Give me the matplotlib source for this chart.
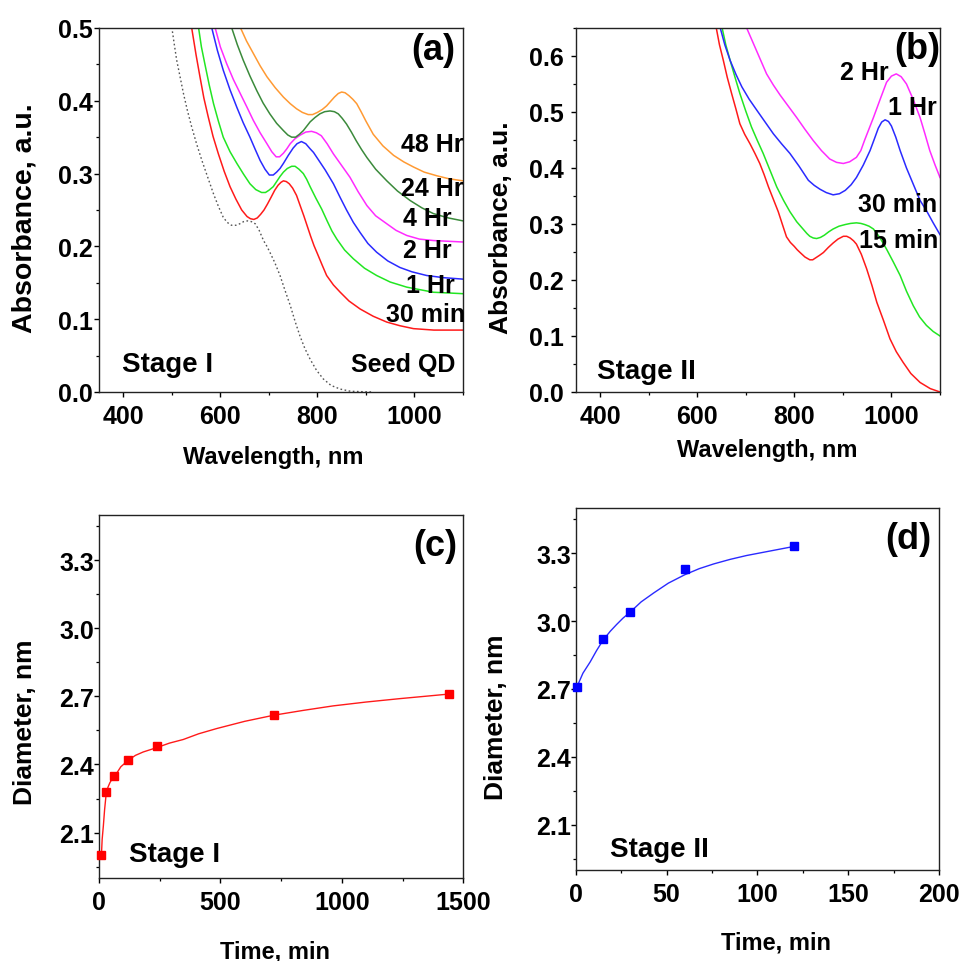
import matplotlib
matplotlib.use("Agg")
import matplotlib.pyplot as plt
from matplotlib.ticker import MultipleLocator, FormatStrFormatter

plt.rcParams['font.family'] = ['Liberation Sans', 'DejaVu Sans']
plt.rcParams['font.weight'] = 'bold'
plt.rcParams['axes.labelweight'] = 'bold'

# ---- panel (a): Stage I absorption spectra ----
wl_a_seed = [500, 505, 510, 517, 524, 532, 541, 551, 562, 574, 586, 596, 606, 614, 623, 632, 640, 648, 656, 664,
             672, 680, 689, 696, 702, 712, 723, 733, 744, 754, 764, 774, 785, 798, 812, 828, 847, 868, 888, 915]
abs_a_seed = [0.501, 0.478, 0.456, 0.433, 0.410, 0.387, 0.364, 0.341, 0.318, 0.295, 0.272, 0.255, 0.240, 0.233,
              0.229, 0.229, 0.231, 0.234, 0.235, 0.234, 0.231, 0.222, 0.208, 0.200, 0.192, 0.178, 0.160, 0.140,
              0.119, 0.097, 0.077, 0.060, 0.045, 0.030, 0.018, 0.009, 0.004, 0.001, 0.0005, 0.0]

wl_a_30min = [541, 550, 558, 566, 575, 585, 596, 608, 620, 632, 644, 655, 662, 669, 676, 683, 690, 697, 705, 712,
              719, 725, 730, 736, 742, 749, 757, 765, 772, 779, 786, 793, 800, 810, 819, 833, 847, 865, 888, 915,
              943, 970, 998, 1040, 1100]
abs_a_30min = [0.500, 0.463, 0.433, 0.404, 0.378, 0.351, 0.327, 0.303, 0.282, 0.265, 0.250, 0.241, 0.238, 0.237,
               0.239, 0.244, 0.250, 0.258, 0.268, 0.277, 0.284, 0.288, 0.290, 0.289, 0.286, 0.280, 0.270, 0.255,
               0.242, 0.228, 0.214, 0.201, 0.190, 0.174, 0.160, 0.147, 0.137, 0.125, 0.114, 0.104, 0.096, 0.091,
               0.087, 0.085, 0.085]

wl_a_1hr = [555, 561, 568, 577, 586, 596, 606, 620, 634, 648, 661, 673, 685, 693, 700, 709, 716, 723, 730, 738,
            747, 754, 762, 771, 778, 785, 797, 809, 820, 830, 840, 856, 874, 897, 922, 950, 984, 1039, 1100]
abs_a_1hr = [0.501, 0.474, 0.451, 0.422, 0.396, 0.372, 0.350, 0.330, 0.314, 0.299, 0.286, 0.278, 0.274, 0.274,
             0.277, 0.282, 0.289, 0.296, 0.302, 0.307, 0.310, 0.310, 0.306, 0.300, 0.292, 0.282, 0.266, 0.251,
             0.235, 0.221, 0.210, 0.195, 0.183, 0.170, 0.160, 0.151, 0.144, 0.137, 0.135]

wl_a_2hr = [582, 594, 606, 620, 634, 647, 661, 672, 682, 692, 701, 709, 716, 723, 730, 740, 750, 758, 767, 776,
            785, 792, 799, 816, 833, 847, 860, 874, 888, 904, 922, 945, 970, 995, 1025, 1060, 1100]
abs_a_2hr = [0.501, 0.469, 0.442, 0.415, 0.391, 0.370, 0.350, 0.333, 0.318, 0.306, 0.298, 0.298, 0.302, 0.307,
             0.314, 0.325, 0.335, 0.341, 0.344, 0.341, 0.334, 0.329, 0.322, 0.305, 0.286, 0.267, 0.250, 0.233,
             0.219, 0.204, 0.192, 0.180, 0.171, 0.165, 0.160, 0.157, 0.155]

wl_a_4hr = [589, 600, 613, 627, 641, 655, 668, 682, 696, 706, 715, 722, 730, 737, 744, 754, 765, 776, 788, 798,
            808, 820, 833, 850, 867, 884, 902, 920, 943, 962, 984, 1010, 1039, 1100]
abs_a_4hr = [0.501, 0.474, 0.451, 0.429, 0.410, 0.391, 0.373, 0.356, 0.341, 0.330, 0.323, 0.323, 0.328, 0.334,
             0.341, 0.348, 0.353, 0.357, 0.358, 0.356, 0.352, 0.341, 0.327, 0.311, 0.295, 0.275, 0.256, 0.242,
             0.231, 0.222, 0.215, 0.210, 0.208, 0.206]

wl_a_24hr = [623, 635, 647, 661, 675, 688, 702, 716, 730, 739, 747, 755, 763, 771, 778, 785, 795, 805, 815, 826,
             835, 843, 851, 860, 870, 880, 891, 902, 920, 943, 965, 991, 1015, 1039, 1070, 1100]
abs_a_24hr = [0.501, 0.477, 0.456, 0.434, 0.414, 0.397, 0.382, 0.369, 0.359, 0.353, 0.350, 0.350, 0.354, 0.359,
              0.365, 0.371, 0.377, 0.382, 0.385, 0.386, 0.385, 0.382, 0.376, 0.368, 0.357, 0.345, 0.333, 0.322,
              0.306, 0.290, 0.276, 0.263, 0.253, 0.245, 0.239, 0.235]

wl_a_48hr = [641, 654, 668, 682, 696, 713, 730, 744, 757, 769, 781, 790, 800, 810, 819, 827, 835, 843, 850, 857,
             865, 873, 881, 890, 900, 915, 935, 957, 978, 998, 1020, 1046, 1070, 1100]
abs_a_48hr = [0.501, 0.482, 0.465, 0.448, 0.433, 0.418, 0.405, 0.396, 0.389, 0.384, 0.381, 0.381, 0.384, 0.388,
              0.393, 0.399, 0.405, 0.410, 0.412, 0.411, 0.407, 0.402, 0.396, 0.385, 0.372, 0.354, 0.338, 0.325,
              0.316, 0.309, 0.302, 0.297, 0.293, 0.290]

# ---- panel (b): Stage II absorption spectra ----
wl_b_15min = [639, 646, 654, 662, 671, 680, 688, 698, 709, 719, 729, 738, 747, 757, 767, 776, 784, 792, 800, 806,
              812, 822, 832, 838, 845, 852, 860, 870, 880, 890, 901, 908, 915, 922, 928, 938, 949, 960, 970, 984,
              997, 1010, 1024, 1040, 1059, 1080, 1100]
abs_b_15min = [0.652, 0.620, 0.592, 0.562, 0.533, 0.505, 0.479, 0.460, 0.443, 0.426, 0.408, 0.388, 0.366, 0.344,
               0.322, 0.298, 0.277, 0.267, 0.260, 0.254, 0.249, 0.241, 0.236, 0.236, 0.240, 0.244, 0.249, 0.258,
               0.266, 0.273, 0.278, 0.278, 0.275, 0.270, 0.264, 0.246, 0.220, 0.190, 0.160, 0.127, 0.095, 0.072,
               0.053, 0.033, 0.017, 0.006, 0.0]

wl_b_30min = [651, 659, 668, 678, 688, 700, 712, 724, 736, 750, 764, 778, 791, 805, 819, 826, 832, 839, 846, 854,
              862, 871, 880, 892, 905, 916, 928, 937, 945, 954, 963, 976, 990, 1004, 1018, 1031, 1045, 1058, 1072,
              1086, 1100]
abs_b_30min = [0.652, 0.620, 0.592, 0.562, 0.533, 0.502, 0.473, 0.449, 0.426, 0.396, 0.366, 0.342, 0.322, 0.304,
               0.290, 0.283, 0.278, 0.275, 0.274, 0.276, 0.280, 0.286, 0.291, 0.296, 0.299, 0.301, 0.302, 0.301,
               0.299, 0.296, 0.291, 0.276, 0.255, 0.232, 0.208, 0.180, 0.154, 0.134, 0.119, 0.108, 0.100]

wl_b_1hr = [647, 657, 668, 680, 692, 707, 723, 740, 757, 774, 791, 810, 829, 841, 853, 866, 880, 893, 905, 917,
            928, 942, 956, 965, 973, 980, 987, 994, 1000, 1009, 1018, 1031, 1045, 1059, 1072, 1086, 1100]
abs_b_1hr = [0.652, 0.620, 0.592, 0.567, 0.545, 0.523, 0.503, 0.482, 0.461, 0.443, 0.426, 0.403, 0.378, 0.369,
             0.362, 0.356, 0.352, 0.354, 0.360, 0.370, 0.383, 0.405, 0.431, 0.452, 0.471, 0.482, 0.486, 0.483,
             0.475, 0.455, 0.431, 0.400, 0.371, 0.342, 0.324, 0.302, 0.281]

wl_b_2hr = [702, 712, 722, 732, 743, 757, 771, 788, 805, 822, 839, 856, 873, 887, 901, 914, 928, 937, 945, 954,
            963, 977, 990, 1000, 1010, 1020, 1031, 1045, 1059, 1069, 1079, 1090, 1100]
abs_b_2hr = [0.650, 0.630, 0.610, 0.590, 0.568, 0.548, 0.530, 0.510, 0.490, 0.469, 0.449, 0.431, 0.416, 0.410,
             0.408, 0.411, 0.419, 0.431, 0.450, 0.470, 0.490, 0.523, 0.553, 0.564, 0.568, 0.563, 0.550, 0.522,
             0.490, 0.461, 0.431, 0.405, 0.383]

# ---- panel (c): Stage I diameter vs time ----
time_c = [10, 30, 60, 120, 240, 720, 1440]
diam_c = [2.00, 2.28, 2.35, 2.42, 2.48, 2.62, 2.71]
time_c_fit = [10, 13, 18, 23, 29, 37, 45, 55, 66, 90, 122, 150, 182, 240, 290, 347, 410, 484, 600, 720, 840, 964,
              1100, 1239, 1340, 1440]
diam_c_fit = [2.00, 2.07, 2.13, 2.20, 2.265, 2.30, 2.32, 2.338, 2.35, 2.39, 2.42, 2.44, 2.455, 2.475, 2.494, 2.51,
              2.535, 2.558, 2.59, 2.617, 2.638, 2.658, 2.675, 2.69, 2.70, 2.71]

# ---- panel (d): Stage II diameter vs time ----
time_d = [1, 15, 30, 60, 120]
diam_d = [2.71, 2.92, 3.04, 3.23, 3.33]
time_d_fit = [1, 4, 8, 11.5, 15, 19, 22.5, 26, 30, 36, 43, 51, 60, 68, 76, 85, 94, 107, 120]
diam_d_fit = [2.715, 2.77, 2.82, 2.87, 2.915, 2.955, 2.985, 3.013, 3.04, 3.085, 3.125, 3.168, 3.205, 3.232, 3.253,
              3.273, 3.29, 3.31, 3.33]

RED = '#ff1a1a'
GREEN = '#22e622'
BLUE = '#2a2aff'
MAGENTA = '#ff2bff'
DKGREEN = '#3b8a3b'
ORANGE = '#ff9a33'

TICK_FS = 18
XLABEL_FS = 17
NOTE_FS = 18
STAGE_FS = 20
PANEL_FS = 26


def style_axes(ax, ypad):
    for sp in ax.spines.values():
        sp.set_linewidth(1.0)
        sp.set_color('#222222')
    ax.tick_params(which='major', direction='out', length=3.5, width=1.0,
                   labelsize=TICK_FS)
    ax.tick_params(which='minor', direction='out', length=2.5, width=0.9)
    ax.tick_params(axis='x', which='major', pad=5)
    ax.tick_params(axis='y', which='major', pad=ypad)
    for lab in ax.get_xticklabels() + ax.get_yticklabels():
        lab.set_fontweight('bold')


def place_labels(ax, xlabel, ylabel, xpos, ypos, yfs):
    ax.set_xlabel(xlabel, fontsize=XLABEL_FS, fontweight='bold')
    ax.set_ylabel(ylabel, fontsize=yfs, fontweight='bold')
    ax.xaxis.set_label_coords(*xpos)
    ax.yaxis.set_label_coords(*ypos)
    ax.xaxis.label.set_va('center')
    ax.yaxis.label.set_va('center')


def note(ax, x, y, s, ha='right', fs=NOTE_FS):
    ax.text(x, y, s, fontsize=fs, fontweight='bold', ha=ha, va='center')


fig = plt.figure(figsize=(9.63, 9.62), dpi=100)
ax_a = fig.add_axes([0.1028, 0.5915, 0.378, 0.3784])
ax_b = fig.add_axes([0.5978, 0.5915, 0.3783, 0.3784])
ax_c = fig.add_axes([0.1028, 0.0863, 0.3783, 0.3776])
ax_d = fig.add_axes([0.5978, 0.0946, 0.3776, 0.3763])

# (a)
lw = 1.1
ax_a.plot(wl_a_seed, abs_a_seed, color='#555555', lw=1.0, ls=(0, (1.2, 1.8)))
ax_a.plot(wl_a_30min, abs_a_30min, color=RED, lw=lw)
ax_a.plot(wl_a_1hr, abs_a_1hr, color=GREEN, lw=lw)
ax_a.plot(wl_a_2hr, abs_a_2hr, color=BLUE, lw=lw)
ax_a.plot(wl_a_4hr, abs_a_4hr, color=MAGENTA, lw=lw)
ax_a.plot(wl_a_24hr, abs_a_24hr, color=DKGREEN, lw=lw)
ax_a.plot(wl_a_48hr, abs_a_48hr, color=ORANGE, lw=lw)
ax_a.set_xlim(350, 1100)
ax_a.set_ylim(0, 0.5)
ax_a.xaxis.set_major_locator(MultipleLocator(200))
ax_a.xaxis.set_minor_locator(MultipleLocator(100))
ax_a.yaxis.set_major_locator(MultipleLocator(0.1))
ax_a.yaxis.set_minor_locator(MultipleLocator(0.05))
ax_a.yaxis.set_major_formatter(FormatStrFormatter('%.1f'))
style_axes(ax_a, 1)
place_labels(ax_a, 'Wavelength, nm', 'Absorbance, a.u.', (0.479, -0.176), (-0.206, 0.48), 20.5)
note(ax_a, 1038, 0.471, '(a)', ha='center', fs=PANEL_FS)
note(ax_a, 1100, 0.341, '48 Hr')
note(ax_a, 1102, 0.280, '24 Hr')
note(ax_a, 1077, 0.239, '4 Hr')
note(ax_a, 1077, 0.1955, '2 Hr')
note(ax_a, 1084, 0.147, '1 Hr')
note(ax_a, 1104, 0.107, '30 min')
note(ax_a, 1084, 0.039, 'Seed QD')
note(ax_a, 397, 0.039, 'Stage I', ha='left', fs=STAGE_FS)

# (b)
ax_b.plot(wl_b_15min, abs_b_15min, color=RED, lw=lw)
ax_b.plot(wl_b_30min, abs_b_30min, color=GREEN, lw=lw)
ax_b.plot(wl_b_1hr, abs_b_1hr, color=BLUE, lw=lw)
ax_b.plot(wl_b_2hr, abs_b_2hr, color=MAGENTA, lw=lw)
ax_b.set_xlim(350, 1100)
ax_b.set_ylim(0, 0.65)
ax_b.xaxis.set_major_locator(MultipleLocator(200))
ax_b.xaxis.set_minor_locator(MultipleLocator(100))
ax_b.yaxis.set_major_locator(MultipleLocator(0.1))
ax_b.yaxis.set_minor_locator(MultipleLocator(0.05))
ax_b.yaxis.set_major_formatter(FormatStrFormatter('%.1f'))
style_axes(ax_b, 5)
place_labels(ax_b, 'Wavelength, nm', 'Absorbance, a.u.', (0.527, -0.157), (-0.205, 0.453), 19)
note(ax_b, 1053, 0.6125, '(b)', ha='center', fs=PANEL_FS)
note(ax_b, 994, 0.571, '2 Hr')
note(ax_b, 1093, 0.508, '1 Hr')
note(ax_b, 1095, 0.336, '30 min')
note(ax_b, 1096, 0.272, '15 min')
note(ax_b, 393, 0.038, 'Stage II', ha='left', fs=STAGE_FS)

# (c)
ax_c.plot(time_c_fit, diam_c_fit, color=RED, lw=1.0)
ax_c.plot(time_c, diam_c, ls='none', marker='s', ms=6, color='#ff0000', clip_on=False, zorder=3)
ax_c.set_xlim(0, 1500)
ax_c.set_ylim(1.9, 3.5)
ax_c.xaxis.set_major_locator(MultipleLocator(500))
ax_c.xaxis.set_minor_locator(MultipleLocator(250))
ax_c.yaxis.set_major_locator(MultipleLocator(0.3))
ax_c.yaxis.set_minor_locator(MultipleLocator(0.15))
ax_c.yaxis.set_major_formatter(FormatStrFormatter('%.1f'))
style_axes(ax_c, 0)
place_labels(ax_c, 'Time, min', 'Diameter, nm', (0.482, -0.2), (-0.203, 0.431), 19)
note(ax_c, 1383, 3.363, '(c)', ha='center', fs=PANEL_FS)
note(ax_c, 125, 2.005, 'Stage I', ha='left', fs=STAGE_FS)

# (d)
ax_d.plot(time_d_fit, diam_d_fit, color=BLUE, lw=1.0)
ax_d.plot(time_d, diam_d, ls='none', marker='s', ms=6, color='#0000ff', clip_on=False, zorder=3)
ax_d.set_xlim(0, 200)
ax_d.set_ylim(1.9, 3.5)
ax_d.xaxis.set_major_locator(MultipleLocator(50))
ax_d.xaxis.set_minor_locator(MultipleLocator(25))
ax_d.yaxis.set_major_locator(MultipleLocator(0.3))
ax_d.yaxis.set_minor_locator(MultipleLocator(0.15))
ax_d.yaxis.set_major_formatter(FormatStrFormatter('%.1f'))
style_axes(ax_d, 0)
place_labels(ax_d, 'Time, min', 'Diameter, nm', (0.55, -0.2), (-0.22, 0.426), 19)
note(ax_d, 183, 3.366, '(d)', ha='center', fs=PANEL_FS)
note(ax_d, 19, 1.995, 'Stage II', ha='left', fs=STAGE_FS)

fig.savefig('out.png', dpi=100)
plt.close(fig)
